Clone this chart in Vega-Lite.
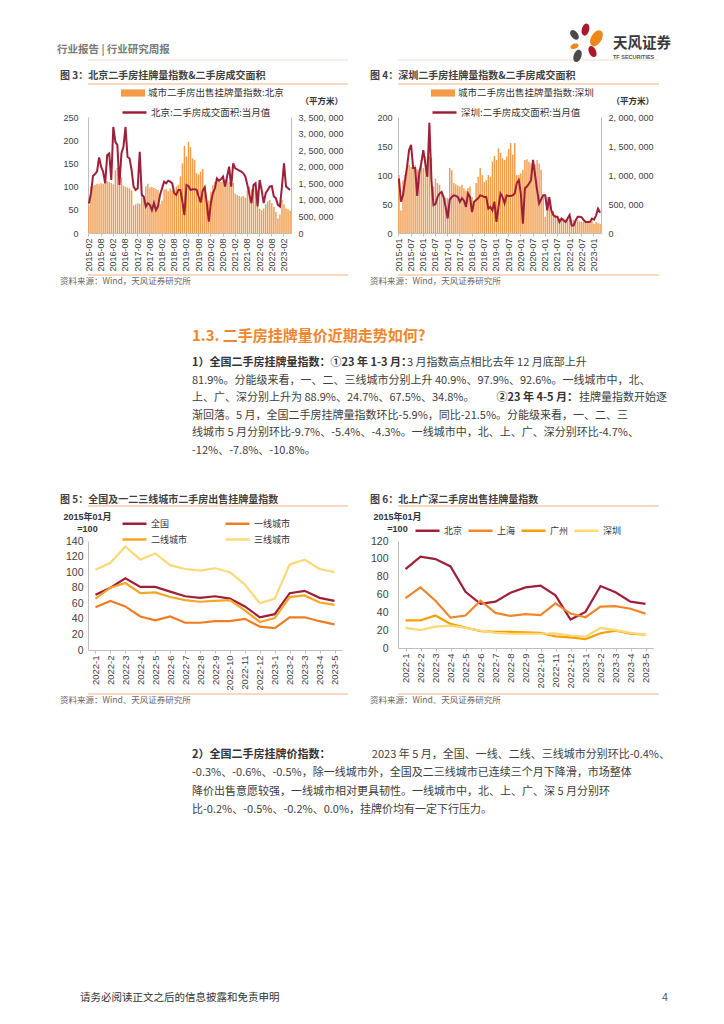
{
  "$schema": "https://vega.github.io/schema/vega-lite/v6.json",
  "background": "white",
  "padding": {"left": 57, "top": 20, "right": 0, "bottom": 0},
  "columns": 2,
  "spacing": {"row": 0, "column": 50},
  "bounds": "flush",
  "align": "each",
  "resolve": {"scale": {"fill": "independent", "stroke": "independent", "color": "independent"}, "legend": {"fill": "independent", "stroke": "independent", "color": "independent"}},
  "config": {
    "font": "Noto Sans CJK SC",
    "view": {"stroke": null},
    "axis": {"labelFont": "Liberation Sans", "labelColor": "#404040", "labelFontSize": 9, "domainColor": "#BFBFBF", "tickColor": "#BFBFBF", "grid": false, "titleFont": "Noto Sans CJK SC"},
    "legend": {"labelFont": "Noto Sans CJK SC", "labelColor": "#333333", "padding": 0, "titlePadding": 0}
  },
  "concat": [
    {
      "width": 260, "height": 97,
      "layer": [
        {"data": {"values": [{"t": "行业报告 | 行业研究周报"}]}, "mark": {"type": "text", "align": "left", "baseline": "middle", "dx": -161, "fontSize": 10.5, "fontWeight": "bold", "color": "#7a7a7a"}, "encoding": {"text": {"field": "t"}, "y": {"datum": 1.714, "type": "quantitative", "scale": {"domain": [0, 5.543], "reverse": true, "nice": false, "zero": false}, "axis": null}}},
        {"data": {"values": [{}]}, "mark": {"type": "rule", "color": "#F1DFD0", "strokeWidth": 1}, "encoding": {"y": {"datum": 2.286, "type": "quantitative", "scale": {"domain": [0, 5.543], "reverse": true, "nice": false, "zero": false}, "axis": null}}},
        {"data": {"values": [{"t": "图 3：北京二手房挂牌量指数&二手房成交面积"}]}, "mark": {"type": "text", "align": "left", "baseline": "middle", "dx": -158, "fontSize": 10, "fontWeight": "bold", "color": "#404040"}, "encoding": {"text": {"field": "t"}, "y": {"datum": 3.2, "type": "quantitative", "scale": {"domain": [0, 5.543], "reverse": true, "nice": false, "zero": false}, "axis": null}}},
        {"data": {"values": [{}]}, "mark": {"type": "rule", "color": "#F4B183", "strokeWidth": 1}, "encoding": {"y": {"datum": 3.657, "type": "quantitative", "scale": {"domain": [0, 5.543], "reverse": true, "nice": false, "zero": false}, "axis": null}}}
      ]
    },
    {
      "width": 261, "height": 97,
      "layer": [
        {"data": {"values": [{}]}, "mark": {"type": "rule", "color": "#F1DFD0", "strokeWidth": 1}, "encoding": {"y": {"datum": 2.286, "type": "quantitative", "scale": {"domain": [0, 5.543], "reverse": true, "nice": false, "zero": false}, "axis": null}}},
        {"data": {"values": [{}]}, "mark": {"type": "point", "filled": true, "color": "#A8192E", "opacity": 1, "shape": "M0,-1C0.8,-1 0.8,1 0,1C-0.8,1 -0.8,-1 0,-1Z", "size": 150, "angle": 15, "xOffset": 57}, "encoding": {"y": {"datum": 0.55, "type": "quantitative", "scale": {"domain": [0, 5.543], "reverse": true, "nice": false, "zero": false}, "axis": null}}},
        {"data": {"values": [{}]}, "mark": {"type": "point", "filled": true, "color": "#4A4A4A", "opacity": 1, "shape": "M0,-1C0.8,-1 0.8,1 0,1C-0.8,1 -0.8,-1 0,-1Z", "size": 120, "angle": -40, "xOffset": 46}, "encoding": {"y": {"datum": 0.85, "type": "quantitative", "scale": {"domain": [0, 5.543], "reverse": true, "nice": false, "zero": false}, "axis": null}}},
        {"data": {"values": [{}]}, "mark": {"type": "point", "filled": true, "color": "#F08519", "opacity": 1, "shape": "M0,-1C0.8,-1 0.8,1 0,1C-0.8,1 -0.8,-1 0,-1Z", "size": 300, "angle": 30, "xOffset": 68}, "encoding": {"y": {"datum": 1.05, "type": "quantitative", "scale": {"domain": [0, 5.543], "reverse": true, "nice": false, "zero": false}, "axis": null}}},
        {"data": {"values": [{}]}, "mark": {"type": "point", "filled": true, "color": "#F08519", "opacity": 1, "shape": "M0,-1C0.8,-1 0.8,1 0,1C-0.8,1 -0.8,-1 0,-1Z", "size": 70, "angle": 70, "xOffset": 46}, "encoding": {"y": {"datum": 1.5, "type": "quantitative", "scale": {"domain": [0, 5.543], "reverse": true, "nice": false, "zero": false}, "axis": null}}},
        {"data": {"values": [{}]}, "mark": {"type": "point", "filled": true, "color": "#A8192E", "opacity": 1, "shape": "M0,-1C0.8,-1 0.8,1 0,1C-0.8,1 -0.8,-1 0,-1Z", "size": 140, "angle": -25, "xOffset": 64}, "encoding": {"y": {"datum": 1.8, "type": "quantitative", "scale": {"domain": [0, 5.543], "reverse": true, "nice": false, "zero": false}, "axis": null}}},
        {"data": {"values": [{}]}, "mark": {"type": "point", "filled": true, "color": "#4A4A4A", "opacity": 1, "shape": "M0,-1C0.8,-1 0.8,1 0,1C-0.8,1 -0.8,-1 0,-1Z", "size": 160, "angle": 20, "xOffset": 49}, "encoding": {"y": {"datum": 2.05, "type": "quantitative", "scale": {"domain": [0, 5.543], "reverse": true, "nice": false, "zero": false}, "axis": null}}},
        {"data": {"values": [{"t": "天风证券"}]}, "mark": {"type": "text", "align": "left", "baseline": "middle", "dx": 84.5, "fontSize": 14.5, "fontWeight": "bold", "color": "#3a3a3a"}, "encoding": {"text": {"field": "t"}, "y": {"datum": 1.371, "type": "quantitative", "scale": {"domain": [0, 5.543], "reverse": true, "nice": false, "zero": false}, "axis": null}}},
        {"data": {"values": [{"t": "TF SECURITIES"}]}, "mark": {"type": "text", "align": "left", "baseline": "middle", "dx": 84.5, "fontSize": 5.5, "fontWeight": "bold", "font": "Liberation Sans", "color": "#555555"}, "encoding": {"text": {"field": "t"}, "y": {"datum": 2.114, "type": "quantitative", "scale": {"domain": [0, 5.543], "reverse": true, "nice": false, "zero": false}, "axis": null}}},
        {"data": {"values": [{"t": "图 4：深圳二手房挂牌量指数&二手房成交面积"}]}, "mark": {"type": "text", "align": "left", "baseline": "middle", "dx": -158.5, "fontSize": 10, "fontWeight": "bold", "color": "#404040"}, "encoding": {"text": {"field": "t"}, "y": {"datum": 3.2, "type": "quantitative", "scale": {"domain": [0, 5.543], "reverse": true, "nice": false, "zero": false}, "axis": null}}},
        {"data": {"values": [{}]}, "mark": {"type": "rule", "color": "#F4B183", "strokeWidth": 1}, "encoding": {"y": {"datum": 3.657, "type": "quantitative", "scale": {"domain": [0, 5.543], "reverse": true, "nice": false, "zero": false}, "axis": null}}}
      ]
    },
    {
      "width": 203, "height": 116,
      "data": {"values": [
        {"m":"2015-02","b":60,"a":890000},{"m":"2015-03","b":100,"a":1190000},{"m":"2015-04","b":102,"a":1720000},{"m":"2015-05","b":104,"a":1780000},{"m":"2015-06","b":106,"a":1850000},{"m":"2015-07","b":105,"a":2280000},{"m":"2015-08","b":107,"a":2000000},{"m":"2015-09","b":106,"a":1850000},{"m":"2015-10","b":110,"a":1500000},{"m":"2015-11","b":112,"a":2350000},{"m":"2015-12","b":110,"a":2400000},
        {"m":"2016-01","b":108,"a":1600000},{"m":"2016-02","b":105,"a":3200000},{"m":"2016-03","b":135,"a":2750000},{"m":"2016-04","b":140,"a":2650000},{"m":"2016-05","b":143,"a":1450000},{"m":"2016-06","b":120,"a":2400000},{"m":"2016-07","b":102,"a":2600000},{"m":"2016-08","b":100,"a":3200000},{"m":"2016-09","b":98,"a":2300000},{"m":"2016-10","b":96,"a":2250000},{"m":"2016-11","b":92,"a":1900000},{"m":"2016-12","b":60,"a":1400000},
        {"m":"2017-01","b":62,"a":1300000},{"m":"2017-02","b":64,"a":1350000},{"m":"2017-03","b":63,"a":2450000},{"m":"2017-04","b":84,"a":1150000},{"m":"2017-05","b":75,"a":1100000},{"m":"2017-06","b":100,"a":800000},{"m":"2017-07","b":106,"a":900000},{"m":"2017-08","b":98,"a":850000},{"m":"2017-09","b":99,"a":690000},{"m":"2017-10","b":97,"a":900000},{"m":"2017-11","b":95,"a":690000},{"m":"2017-12","b":92,"a":800000},
        {"m":"2018-01","b":62,"a":1150000},{"m":"2018-02","b":70,"a":1350000},{"m":"2018-03","b":93,"a":1550000},{"m":"2018-04","b":95,"a":1500000},{"m":"2018-05","b":90,"a":1580000},{"m":"2018-06","b":96,"a":1550000},{"m":"2018-07","b":92,"a":1500000},{"m":"2018-08","b":88,"a":1200000},{"m":"2018-09","b":100,"a":1150000},{"m":"2018-10","b":104,"a":1300000},{"m":"2018-11","b":122,"a":1300000},{"m":"2018-12","b":150,"a":950000},
        {"m":"2019-01","b":188,"a":540000},{"m":"2019-02","b":165,"a":1450000},{"m":"2019-03","b":197,"a":1420000},{"m":"2019-04","b":185,"a":1300000},{"m":"2019-05","b":161,"a":1320000},{"m":"2019-06","b":157,"a":1320000},{"m":"2019-07","b":129,"a":1300000},{"m":"2019-08","b":126,"a":1100000},{"m":"2019-09","b":132,"a":920000},{"m":"2019-10","b":138,"a":1280000},{"m":"2019-11","b":100,"a":1380000},{"m":"2019-12","b":56,"a":900000},
        {"m":"2020-01","b":70,"a":340000},{"m":"2020-02","b":89,"a":900000},{"m":"2020-03","b":103,"a":1200000},{"m":"2020-04","b":110,"a":1350000},{"m":"2020-05","b":112,"a":1650000},{"m":"2020-06","b":114,"a":1580000},{"m":"2020-07","b":110,"a":1620000},{"m":"2020-08","b":112,"a":1700000},{"m":"2020-09","b":116,"a":1400000},{"m":"2020-10","b":114,"a":1700000},{"m":"2020-11","b":110,"a":2000000},{"m":"2020-12","b":116,"a":1400000},
        {"m":"2021-01","b":108,"a":2100000},{"m":"2021-02","b":85,"a":1950000},{"m":"2021-03","b":82,"a":1920000},{"m":"2021-04","b":80,"a":1880000},{"m":"2021-05","b":78,"a":1850000},{"m":"2021-06","b":80,"a":1800000},{"m":"2021-07","b":76,"a":1700000},{"m":"2021-08","b":92,"a":1450000},{"m":"2021-09","b":100,"a":1150000},{"m":"2021-10","b":94,"a":900000},{"m":"2021-11","b":97,"a":1450000},{"m":"2021-12","b":103,"a":1500000},
        {"m":"2022-01","b":93,"a":800000},{"m":"2022-02","b":52,"a":1600000},{"m":"2022-03","b":49,"a":1300000},{"m":"2022-04","b":53,"a":900000},{"m":"2022-05","b":62,"a":1200000},{"m":"2022-06","b":68,"a":1300000},{"m":"2022-07","b":71,"a":1400000},{"m":"2022-08","b":64,"a":1420000},{"m":"2022-09","b":56,"a":1100000},{"m":"2022-10","b":45,"a":1050000},{"m":"2022-11","b":31,"a":850000},{"m":"2022-12","b":40,"a":800000},
        {"m":"2023-01","b":71,"a":1400000},{"m":"2023-02","b":62,"a":2100000},{"m":"2023-03","b":53,"a":1400000},{"m":"2023-04","b":51,"a":1350000},{"m":"2023-05","b":48,"a":1300000}
      ]},
      "layer": [
        {
          "mark": {"type": "bar"},
          "encoding": {
            "x": {"field": "m", "type": "ordinal", "scale": {"paddingInner": 0.3, "paddingOuter": 0.1}, "axis": {"values": ["2015-02","2015-08","2016-02","2016-08","2017-02","2017-08","2018-02","2018-08","2019-02","2019-08","2020-02","2020-08","2021-02","2021-08","2022-02","2022-08","2023-02"], "labelAngle": 270, "title": null, "tickSize": 3, "labelPadding": 2, "labelFontSize": 9}},
            "y": {"field": "b", "type": "quantitative", "scale": {"domain": [0, 250], "nice": false}, "axis": {"values": [0,50,100,150,200,250], "title": null, "ticks": false, "tickSize": 0, "labelPadding": 10}},
            "fill": {"datum": "城市二手房出售挂牌量指数:北京", "type": "nominal", "scale": {"range": ["#F39B4A"]}, "legend": {"orient": "none", "legendX": 39, "legendY": -30, "title": null, "symbolType": "M-2,-0.6H2V0.6H-2Z", "symbolSize": 144, "symbolStrokeWidth": 0, "labelOffset": 9, "labelFontSize": 9.5}}
          }
        },
        {
          "mark": {"type": "line", "strokeWidth": 2},
          "encoding": {
            "x": {"field": "m", "type": "ordinal"},
            "y": {"field": "a", "type": "quantitative", "scale": {"domain": [0, 3500000], "nice": false}, "axis": {"orient": "right", "values": [0,500000,1000000,1500000,2000000,2500000,3000000,3500000], "labelExpr": "replace(format(datum.value, ','), regexp(',', 'g'), ', ')", "ticks": false, "tickSize": 0, "labelPadding": 7, "title": "（平方米）", "titleAngle": 0, "titleX": 9, "titleY": -17, "titleAlign": "left", "titleBaseline": "middle", "titleFontSize": 8.5, "titleFontWeight": "bold", "titleColor": "#333333"}},
            "stroke": {"datum": "北京:二手房成交面积:当月值", "type": "nominal", "scale": {"range": ["#9E1F3A"]}, "legend": {"orient": "none", "legendX": 39, "legendY": -12, "title": null, "symbolType": "M-2,0H2", "symbolSize": 144, "symbolStrokeWidth": 2.5, "labelOffset": 9, "labelFontSize": 9.5}}
          }
        }
      ],
      "resolve": {"scale": {"y": "independent"}}
    },
    {
      "width": 203, "height": 116,
      "data": {"values": [
        {"m":"2015-01","b":100,"a":940000},{"m":"2015-02","b":39,"a":540000},{"m":"2015-03","b":91,"a":650000},{"m":"2015-04","b":100,"a":900000},{"m":"2015-05","b":120,"a":1140000},{"m":"2015-06","b":118,"a":1430000},{"m":"2015-07","b":114,"a":1520000},{"m":"2015-08","b":112,"a":1120000},{"m":"2015-09","b":117,"a":1120000},{"m":"2015-10","b":110,"a":640000},{"m":"2015-11","b":109,"a":1030000},{"m":"2015-12","b":126,"a":1200000},
        {"m":"2016-01","b":112,"a":1430000},{"m":"2016-02","b":132,"a":1200000},{"m":"2016-03","b":128,"a":970000},{"m":"2016-04","b":132,"a":1900000},{"m":"2016-05","b":130,"a":910000},{"m":"2016-06","b":80,"a":480000},{"m":"2016-07","b":94,"a":500000},{"m":"2016-08","b":86,"a":620000},{"m":"2016-09","b":83,"a":680000},{"m":"2016-10","b":71,"a":710000},{"m":"2016-11","b":62,"a":620000},{"m":"2016-12","b":61,"a":450000},
        {"m":"2017-01","b":60,"a":250000},{"m":"2017-02","b":112,"a":570000},{"m":"2017-03","b":108,"a":620000},{"m":"2017-04","b":86,"a":650000},{"m":"2017-05","b":84,"a":640000},{"m":"2017-06","b":82,"a":620000},{"m":"2017-07","b":80,"a":540000},{"m":"2017-08","b":83,"a":600000},{"m":"2017-09","b":77,"a":560000},{"m":"2017-10","b":73,"a":450000},{"m":"2017-11","b":77,"a":680000},{"m":"2017-12","b":80,"a":620000},
        {"m":"2018-01","b":62,"a":360000},{"m":"2018-02","b":51,"a":540000},{"m":"2018-03","b":86,"a":570000},{"m":"2018-04","b":97,"a":600000},{"m":"2018-05","b":112,"a":650000},{"m":"2018-06","b":100,"a":640000},{"m":"2018-07","b":88,"a":620000},{"m":"2018-08","b":91,"a":620000},{"m":"2018-09","b":100,"a":420000},{"m":"2018-10","b":97,"a":450000},{"m":"2018-11","b":123,"a":390000},{"m":"2018-12","b":133,"a":540000},
        {"m":"2019-01","b":126,"a":190000},{"m":"2019-02","b":146,"a":450000},{"m":"2019-03","b":138,"a":680000},{"m":"2019-04","b":129,"a":620000},{"m":"2019-05","b":126,"a":510000},{"m":"2019-06","b":132,"a":650000},{"m":"2019-07","b":145,"a":640000},{"m":"2019-08","b":155,"a":640000},{"m":"2019-09","b":135,"a":650000},{"m":"2019-10","b":155,"a":680000},{"m":"2019-11","b":100,"a":860000},{"m":"2019-12","b":100,"a":910000},
        {"m":"2020-01","b":103,"a":680000},{"m":"2020-02","b":109,"a":160000},{"m":"2020-03","b":126,"a":770000},{"m":"2020-04","b":127,"a":800000},{"m":"2020-05","b":123,"a":850000},{"m":"2020-06","b":120,"a":910000},{"m":"2020-07","b":120,"a":1260000},{"m":"2020-08","b":118,"a":1000000},{"m":"2020-09","b":126,"a":740000},{"m":"2020-10","b":120,"a":510000},{"m":"2020-11","b":109,"a":580000},{"m":"2020-12","b":62,"a":650000},
        {"m":"2021-01","b":28,"a":650000},{"m":"2021-02","b":62,"a":390000},{"m":"2021-03","b":54,"a":620000},{"m":"2021-04","b":39,"a":390000},{"m":"2021-05","b":38,"a":310000},{"m":"2021-06","b":31,"a":280000},{"m":"2021-07","b":28,"a":280000},{"m":"2021-08","b":25,"a":190000},{"m":"2021-09","b":23,"a":250000},{"m":"2021-10","b":25,"a":220000},{"m":"2021-11","b":23,"a":190000},{"m":"2021-12","b":25,"a":250000},
        {"m":"2022-01","b":24,"a":310000},{"m":"2022-02","b":23,"a":130000},{"m":"2022-03","b":22,"a":130000},{"m":"2022-04","b":24,"a":220000},{"m":"2022-05","b":22,"a":280000},{"m":"2022-06","b":20,"a":280000},{"m":"2022-07","b":19,"a":270000},{"m":"2022-08","b":20,"a":220000},{"m":"2022-09","b":19,"a":190000},{"m":"2022-10","b":18,"a":190000},{"m":"2022-11","b":17,"a":190000},{"m":"2022-12","b":22,"a":250000},
        {"m":"2023-01","b":16,"a":230000},{"m":"2023-02","b":19,"a":300000},{"m":"2023-03","b":17,"a":420000},{"m":"2023-04","b":16,"a":350000}
      ]},
      "layer": [
        {
          "mark": {"type": "bar"},
          "encoding": {
            "x": {"field": "m", "type": "ordinal", "scale": {"paddingInner": 0.3, "paddingOuter": 0.1}, "axis": {"values": ["2015-01","2015-07","2016-01","2016-07","2017-01","2017-07","2018-01","2018-07","2019-01","2019-07","2020-01","2020-07","2021-01","2021-07","2022-01","2022-07","2023-01"], "labelAngle": 270, "title": null, "tickSize": 3, "labelPadding": 2, "labelFontSize": 9}},
            "y": {"field": "b", "type": "quantitative", "scale": {"domain": [0, 200], "nice": false}, "axis": {"values": [0,50,100,150,200], "title": null, "ticks": false, "tickSize": 0, "labelPadding": 6}},
            "fill": {"datum": "城市二手房出售挂牌量指数:深圳", "type": "nominal", "scale": {"range": ["#F39B4A"]}, "legend": {"orient": "none", "legendX": 39, "legendY": -30, "title": null, "symbolType": "M-2,-0.6H2V0.6H-2Z", "symbolSize": 144, "symbolStrokeWidth": 0, "labelOffset": 9, "labelFontSize": 9.5}}
          }
        },
        {
          "mark": {"type": "line", "strokeWidth": 2},
          "encoding": {
            "x": {"field": "m", "type": "ordinal"},
            "y": {"field": "a", "type": "quantitative", "scale": {"domain": [0, 2000000], "nice": false}, "axis": {"orient": "right", "values": [0,500000,1000000,1500000,2000000], "labelExpr": "replace(format(datum.value, ','), regexp(',', 'g'), ', ')", "ticks": false, "tickSize": 0, "labelPadding": 7, "title": "（平方米）", "titleAngle": 0, "titleX": 10, "titleY": -17, "titleAlign": "left", "titleBaseline": "middle", "titleFontSize": 8.5, "titleFontWeight": "bold", "titleColor": "#333333"}},
            "stroke": {"datum": "深圳:二手房成交面积:当月值", "type": "nominal", "scale": {"range": ["#9E1F3A"]}, "legend": {"orient": "none", "legendX": 39, "legendY": -12, "title": null, "symbolType": "M-2,0H2", "symbolSize": 144, "symbolStrokeWidth": 2.5, "labelOffset": 9, "labelFontSize": 9.5}}
          }
        }
      ],
      "resolve": {"scale": {"y": "independent"}}
    },
    {
      "width": 260, "height": 308,
      "data": {"values": [
        {"r": "p", "k": 1, "t": "81.9%。分能级来看，一、二、三线城市分别上升 40.9%、97.9%、92.6%。一线城市中，北、"},
        {"r": "p", "k": 2, "t": "上、广、深分别上升为 88.9%、24.7%、67.5%、34.8%。"},
        {"r": "p", "k": 3, "t": "渐回落。5 月，全国二手房挂牌量指数环比-5.9%，同比-21.5%。分能级来看，一、二、三"},
        {"r": "p", "k": 4, "t": "线城市 5 月分别环比-9.7%、-5.4%、-4.3%。一线城市中，北、上、广、深分别环比-4.7%、"},
        {"r": "p", "k": 5, "t": "-12%、-7.8%、-10.8%。"},
        {"r": "b", "k": 0, "t": "1）全国二手房挂牌量指数：①23 年 1-3 月："},
        {"r": "pa", "k": 0, "t": "3 月指数高点相比去年 12 月底部上升"},
        {"r": "pr", "k": 2, "t": "挂牌量指数开始逐"},
        {"r": "bm", "k": 2, "t": "②23 年 4-5 月："},
        {"r": "src", "t": "资料来源：Wind，天风证券研究所"},
        {"r": "sec", "t": "1.3. 二手房挂牌量价近期走势如何?"},
        {"r": "ct", "t": "图 5：全国及一二三线城市二手房出售挂牌量指数"}
      ]},
      "layer": [
        {"data": {"values": [{}]}, "mark": {"type": "rule", "color": "#F4B183", "strokeWidth": 1}, "encoding": {"y": {"datum": -5.029, "type": "quantitative", "scale": {"domain": [-7.4286, 10.1714], "reverse": true, "nice": false, "zero": false}, "axis": null}}},
        {"data": {"values": [{}]}, "mark": {"type": "rule", "color": "#F4B183", "strokeWidth": 1}, "encoding": {"y": {"datum": 8.171, "type": "quantitative", "scale": {"domain": [-7.4286, 10.1714], "reverse": true, "nice": false, "zero": false}, "axis": null}}},
        {"transform": [{"filter": "datum.r === 'src'"}], "mark": {"type": "text", "align": "left", "baseline": "middle", "dx": -158, "fontSize": 8.5, "color": "#666666"}, "encoding": {"text": {"field": "t"}, "y": {"datum": -4.686, "type": "quantitative", "scale": {"domain": [-7.4286, 10.1714], "reverse": true, "nice": false, "zero": false}, "axis": null}}},
        {"transform": [{"filter": "datum.r === 'sec'"}], "mark": {"type": "text", "align": "left", "baseline": "middle", "dx": -26, "fontSize": 15, "fontWeight": "bold", "color": "#F0862D"}, "encoding": {"text": {"field": "t"}, "y": {"datum": -1.543, "type": "quantitative", "scale": {"domain": [-7.4286, 10.1714], "reverse": true, "nice": false, "zero": false}, "axis": null}}},
        {"transform": [{"filter": "datum.r === 'ct'"}], "mark": {"type": "text", "align": "left", "baseline": "middle", "dx": -158, "fontSize": 10, "fontWeight": "bold", "color": "#404040"}, "encoding": {"text": {"field": "t"}, "y": {"datum": 7.829, "type": "quantitative", "scale": {"domain": [-7.4286, 10.1714], "reverse": true, "nice": false, "zero": false}, "axis": null}}},
        {"transform": [{"filter": "datum.r === 'p'"}], "mark": {"type": "text", "align": "left", "baseline": "middle", "dx": -26, "fontSize": 11, "color": "#404040"}, "encoding": {"text": {"field": "t"}, "y": {"field": "k", "type": "quantitative", "scale": {"domain": [-7.4286, 10.1714], "reverse": true, "nice": false, "zero": false}, "axis": null}}},
        {"transform": [{"filter": "datum.r === 'b'"}], "mark": {"type": "text", "align": "left", "baseline": "middle", "dx": -26, "fontSize": 11, "fontWeight": "bold", "color": "#333333"}, "encoding": {"text": {"field": "t"}, "y": {"field": "k", "type": "quantitative", "scale": {"domain": [-7.4286, 10.1714], "reverse": true, "nice": false, "zero": false}, "axis": null}}},
        {"transform": [{"filter": "datum.r === 'pa'"}], "mark": {"type": "text", "align": "left", "baseline": "middle", "dx": 189, "fontSize": 11, "color": "#404040"}, "encoding": {"text": {"field": "t"}, "y": {"field": "k", "type": "quantitative", "scale": {"domain": [-7.4286, 10.1714], "reverse": true, "nice": false, "zero": false}, "axis": null}}},
        {"transform": [{"filter": "datum.r === 'pr'"}], "mark": {"type": "text", "align": "right", "baseline": "middle", "dx": 449, "fontSize": 11, "color": "#404040"}, "encoding": {"text": {"field": "t"}, "y": {"field": "k", "type": "quantitative", "scale": {"domain": [-7.4286, 10.1714], "reverse": true, "nice": false, "zero": false}, "axis": null}}},
        {"transform": [{"filter": "datum.r === 'bm'"}], "mark": {"type": "text", "align": "right", "baseline": "middle", "dx": 360, "fontSize": 11, "fontWeight": "bold", "color": "#333333"}, "encoding": {"text": {"field": "t"}, "y": {"field": "k", "type": "quantitative", "scale": {"domain": [-7.4286, 10.1714], "reverse": true, "nice": false, "zero": false}, "axis": null}}}
      ]
    },
    {
      "width": 261, "height": 308,
      "data": {"values": [
        {"r": "src", "t": "资料来源：Wind，天风证券研究所"},
        {"r": "ct", "t": "图 6：北上广深二手房出售挂牌量指数"}
      ]},
      "layer": [
        {"data": {"values": [{}]}, "mark": {"type": "rule", "color": "#F4B183", "strokeWidth": 1}, "encoding": {"y": {"datum": -5.029, "type": "quantitative", "scale": {"domain": [-7.4286, 10.1714], "reverse": true, "nice": false, "zero": false}, "axis": null}}},
        {"data": {"values": [{}]}, "mark": {"type": "rule", "color": "#F4B183", "strokeWidth": 1}, "encoding": {"y": {"datum": 8.171, "type": "quantitative", "scale": {"domain": [-7.4286, 10.1714], "reverse": true, "nice": false, "zero": false}, "axis": null}}},
        {"transform": [{"filter": "datum.r === 'src'"}], "mark": {"type": "text", "align": "left", "baseline": "middle", "dx": -158.5, "fontSize": 8.5, "color": "#666666"}, "encoding": {"text": {"field": "t"}, "y": {"datum": -4.686, "type": "quantitative", "scale": {"domain": [-7.4286, 10.1714], "reverse": true, "nice": false, "zero": false}, "axis": null}}},
        {"transform": [{"filter": "datum.r === 'ct'"}], "mark": {"type": "text", "align": "left", "baseline": "middle", "dx": -158.5, "fontSize": 10, "fontWeight": "bold", "color": "#404040"}, "encoding": {"text": {"field": "t"}, "y": {"datum": 7.829, "type": "quantitative", "scale": {"domain": [-7.4286, 10.1714], "reverse": true, "nice": false, "zero": false}, "axis": null}}}
      ]
    },
    {
      "width": 254, "height": 109,
      "data": {"values": [
        {"m":"2022-1","全国":71,"一线城市":55,"二线城市":66,"三线城市":103},
        {"m":"2022-2","全国":80,"一线城市":63,"二线城市":80,"三线城市":112},
        {"m":"2022-3","全国":92,"一线城市":56,"二线城市":86,"三线城市":133},
        {"m":"2022-4","全国":81,"一线城市":43,"二线城市":73,"三线城市":116},
        {"m":"2022-5","全国":81,"一线城市":38,"二线城市":74,"三线城市":124},
        {"m":"2022-6","全国":75,"一线城市":43,"二线城市":68,"三线城市":109},
        {"m":"2022-7","全国":69,"一线城市":35,"二线城市":64,"三线城市":104},
        {"m":"2022-8","全国":67,"一线城市":35,"二线城市":62,"三线城市":102},
        {"m":"2022-9","全国":69,"一线城市":37,"二线城市":63,"三线城市":105},
        {"m":"2022-10","全国":66,"一线城市":37,"二线城市":64,"三线城市":100},
        {"m":"2022-11","全国":56,"一线城市":40,"二线城市":51,"三线城市":84},
        {"m":"2022-12","全国":42,"一线城市":30,"二线城市":36,"三线城市":60},
        {"m":"2023-1","全国":46,"一线城市":28,"二线城市":41,"三线城市":66},
        {"m":"2023-2","全国":73,"一线城市":42,"二线城市":68,"三线城市":110},
        {"m":"2023-3","全国":76,"一线城市":42,"二线城市":70,"三线城市":116},
        {"m":"2023-4","全国":67,"一线城市":37,"二线城市":61,"三线城市":104},
        {"m":"2023-5","全国":63,"一线城市":33,"二线城市":58,"三线城市":100}
      ]},
      "transform": [{"fold": ["全国","一线城市","二线城市","三线城市"], "as": ["c","v"]}],
      "mark": {"type": "line", "strokeWidth": 2.2},
      "encoding": {
        "x": {"field": "m", "type": "ordinal", "sort": null, "axis": {"labelAngle": 270, "title": null, "tickSize": 3, "labelPadding": 2, "labelFontSize": 9.5}},
        "y": {"field": "v", "type": "quantitative", "scale": {"domain": [0, 140], "nice": false}, "axis": {"values": [0,20,40,60,80,100,120,140], "ticks": false, "tickSize": 0, "labelPadding": 5, "labelFontSize": 10.5, "title": ["2015年01月", "=100"], "titleAngle": 0, "titleX": -1, "titleY": -29, "titleAlign": "center", "titleBaseline": "top", "titleLineHeight": 12, "titleFontSize": 9, "titleFontWeight": "bold", "titleFont": "Liberation Sans, Noto Sans CJK SC", "titleColor": "#333333"}},
        "stroke": {"field": "c", "type": "nominal", "scale": {"domain": ["全国","一线城市","二线城市","三线城市"], "range": ["#9E1F3A","#F07C22","#F5A623","#FCD877"]}, "legend": {"orient": "none", "direction": "horizontal", "legendX": 39, "legendY": -25, "columns": 2, "columnPadding": 32, "rowPadding": 3, "title": null, "symbolType": "M-2,0H2", "symbolSize": 144, "symbolStrokeWidth": 2.5, "labelOffset": 9, "labelFontSize": 9}}
      }
    },
    {
      "width": 255, "height": 107,
      "data": {"values": [
        {"m":"2022-1","北京":88.5,"上海":56,"广州":31,"深圳":22.5},
        {"m":"2022-2","北京":102.4,"上海":68,"广州":31,"深圳":20},
        {"m":"2022-3","北京":99.7,"上海":53,"广州":36.4,"深圳":24},
        {"m":"2022-4","北京":91.5,"上海":34,"广州":27,"深圳":25},
        {"m":"2022-5","北京":63,"上海":36.4,"广州":23,"深圳":22.5},
        {"m":"2022-6","北京":49.5,"上海":53,"广州":19,"深圳":19.5},
        {"m":"2022-7","北京":52,"上海":39.4,"广州":18,"深圳":17},
        {"m":"2022-8","北京":62,"上海":36,"广州":18,"深圳":16},
        {"m":"2022-9","北京":68,"上海":38,"广州":17.6,"深圳":16},
        {"m":"2022-10","北京":70,"上海":37,"广州":17,"深圳":16},
        {"m":"2022-11","北京":59,"上海":50,"广州":13,"深圳":16.5},
        {"m":"2022-12","北京":32,"上海":38.6,"广州":12,"深圳":14},
        {"m":"2023-1","北京":40.5,"上海":34.5,"广州":10,"深圳":12.7},
        {"m":"2023-2","北京":69.5,"上海":46.5,"广州":16.5,"深圳":22.5},
        {"m":"2023-3","北京":62.5,"上海":47,"广州":19.5,"深圳":20},
        {"m":"2023-4","北京":52,"上海":44,"广州":16,"深圳":17},
        {"m":"2023-5","北京":49.5,"上海":38.6,"广州":15,"深圳":15}
      ]},
      "transform": [{"fold": ["北京","上海","广州","深圳"], "as": ["c","v"]}],
      "mark": {"type": "line", "strokeWidth": 2.2},
      "encoding": {
        "x": {"field": "m", "type": "ordinal", "sort": null, "axis": {"labelAngle": 270, "title": null, "tickSize": 3, "labelPadding": 2, "labelFontSize": 9.5}},
        "y": {"field": "v", "type": "quantitative", "scale": {"domain": [0, 120], "nice": false}, "axis": {"values": [0,20,40,60,80,100,120], "ticks": false, "tickSize": 0, "labelPadding": 10, "labelFontSize": 10.5, "title": ["2015年01月", "=100"], "titleAngle": 0, "titleX": -1, "titleY": -29, "titleAlign": "center", "titleBaseline": "top", "titleLineHeight": 12, "titleFontSize": 9, "titleFontWeight": "bold", "titleFont": "Liberation Sans, Noto Sans CJK SC", "titleColor": "#333333"}},
        "stroke": {"field": "c", "type": "nominal", "scale": {"domain": ["北京","上海","广州","深圳"], "range": ["#9E1F3A","#F0862B","#F5A000","#FDD877"]}, "legend": {"orient": "none", "direction": "horizontal", "legendX": 22, "legendY": -18, "columnPadding": 0, "title": null, "symbolType": "M-2,0H2", "symbolSize": 144, "symbolStrokeWidth": 2.5, "labelOffset": 9, "labelFontSize": 9}}
      }
    },
    {
      "width": 260, "height": 360,
      "data": {"values": [
        {"r": "b", "k": 0, "t": "2）全国二手房挂牌价指数："},
        {"r": "pr", "k": 0, "t": "2023 年 5 月，全国、一线、二线、三线城市分别环比-0.4%、"},
        {"r": "p", "k": 1, "t": "-0.3%、-0.6%、-0.5%，除一线城市外，全国及二三线城市已连续三个月下降滑，市场整体"},
        {"r": "p", "k": 2, "t": "降价出售意愿较强，一线城市相对更具韧性。一线城市中，北、上、广、深 5 月分别环"},
        {"r": "p", "k": 3, "t": "比-0.2%、-0.5%、-0.2%、0.0%，挂牌价均有一定下行压力。"},
        {"r": "src", "t": "资料来源：Wind、天风证券研究所"},
        {"r": "foot", "t": "请务必阅读正文之后的信息披露和免责申明"}
      ]},
      "layer": [
        {"data": {"values": [{}]}, "mark": {"type": "rule", "color": "#F4B183", "strokeWidth": 1}, "encoding": {"y": {"datum": -3.333, "type": "quantitative", "scale": {"domain": [-5.738, 13.934], "reverse": true, "nice": false, "zero": false}, "axis": null}}},
        {"transform": [{"filter": "datum.r === 'src'"}], "mark": {"type": "text", "align": "left", "baseline": "middle", "dx": -158, "fontSize": 8.5, "color": "#666666"}, "encoding": {"text": {"field": "t"}, "y": {"datum": -3.006, "type": "quantitative", "scale": {"domain": [-5.738, 13.934], "reverse": true, "nice": false, "zero": false}, "axis": null}}},
        {"transform": [{"filter": "datum.r === 'foot'"}], "mark": {"type": "text", "align": "left", "baseline": "middle", "dx": -138, "fontSize": 10.5, "color": "#333333"}, "encoding": {"text": {"field": "t"}, "y": {"datum": 13.279, "type": "quantitative", "scale": {"domain": [-5.738, 13.934], "reverse": true, "nice": false, "zero": false}, "axis": null}}},
        {"transform": [{"filter": "datum.r === 'p'"}], "mark": {"type": "text", "align": "left", "baseline": "middle", "dx": -26, "fontSize": 11, "color": "#404040"}, "encoding": {"text": {"field": "t"}, "y": {"field": "k", "type": "quantitative", "scale": {"domain": [-5.738, 13.934], "reverse": true, "nice": false, "zero": false}, "axis": null}}},
        {"transform": [{"filter": "datum.r === 'b'"}], "mark": {"type": "text", "align": "left", "baseline": "middle", "dx": -26, "fontSize": 11, "fontWeight": "bold", "color": "#333333"}, "encoding": {"text": {"field": "t"}, "y": {"field": "k", "type": "quantitative", "scale": {"domain": [-5.738, 13.934], "reverse": true, "nice": false, "zero": false}, "axis": null}}},
        {"transform": [{"filter": "datum.r === 'pr'"}], "mark": {"type": "text", "align": "right", "baseline": "middle", "dx": 452, "fontSize": 11, "color": "#404040"}, "encoding": {"text": {"field": "t"}, "y": {"field": "k", "type": "quantitative", "scale": {"domain": [-5.738, 13.934], "reverse": true, "nice": false, "zero": false}, "axis": null}}}
      ]
    },
    {
      "width": 261, "height": 360,
      "data": {"values": [
        {"r": "src", "t": "资料来源：Wind、天风证券研究所"},
        {"r": "pg", "t": "4"}
      ]},
      "layer": [
        {"data": {"values": [{}]}, "mark": {"type": "rule", "color": "#F4B183", "strokeWidth": 1}, "encoding": {"y": {"datum": -3.333, "type": "quantitative", "scale": {"domain": [-5.738, 13.934], "reverse": true, "nice": false, "zero": false}, "axis": null}}},
        {"transform": [{"filter": "datum.r === 'src'"}], "mark": {"type": "text", "align": "left", "baseline": "middle", "dx": -158.5, "fontSize": 8.5, "color": "#666666"}, "encoding": {"text": {"field": "t"}, "y": {"datum": -3.006, "type": "quantitative", "scale": {"domain": [-5.738, 13.934], "reverse": true, "nice": false, "zero": false}, "axis": null}}},
        {"transform": [{"filter": "datum.r === 'pg'"}], "mark": {"type": "text", "align": "center", "baseline": "middle", "dx": 136.5, "fontSize": 10.5, "color": "#555555", "font": "Liberation Sans"}, "encoding": {"text": {"field": "t"}, "y": {"datum": 13.279, "type": "quantitative", "scale": {"domain": [-5.738, 13.934], "reverse": true, "nice": false, "zero": false}, "axis": null}}}
      ]
    }
  ]
}
